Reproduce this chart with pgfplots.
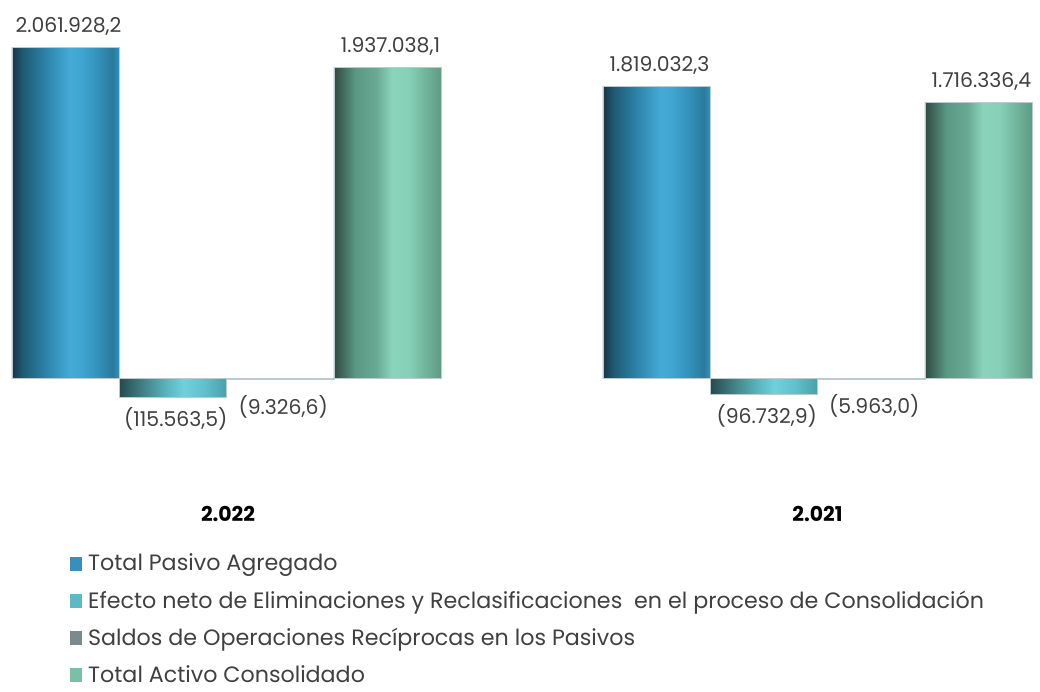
\documentclass[border=0pt]{standalone}
\usepackage{fontspec}
\setmainfont{Poppins}
\usepackage{pgfplots}
\pgfplotsset{compat=1.18}

% bar gradients, left to right
\definecolor{pa0}{HTML}{163545}
\definecolor{pa1}{HTML}{1F5A73}
\definecolor{pa2}{HTML}{2B80A6}
\definecolor{pa3}{HTML}{45ABD6}
\definecolor{pa4}{HTML}{40A6D1}
\definecolor{pa5}{HTML}{3391BB}
\definecolor{pa6}{HTML}{2A7A9D}
\definecolor{ef0}{HTML}{254A4E}
\definecolor{ef1}{HTML}{44868C}
\definecolor{ef2}{HTML}{5AB4BC}
\definecolor{ef3}{HTML}{70D0DC}
\definecolor{ef4}{HTML}{5FBFCA}
\definecolor{ef5}{HTML}{4AA0AA}
\definecolor{ac0}{HTML}{2E4A40}
\definecolor{ac1}{HTML}{5A9884}
\definecolor{ac2}{HTML}{6AAA94}
\definecolor{ac3}{HTML}{8AD4BC}
\definecolor{ac4}{HTML}{86D0B8}
\definecolor{ac5}{HTML}{72B69E}
\definecolor{ac6}{HTML}{5F9A84}
\definecolor{saldo}{HTML}{7D8F92}
\definecolor{edge}{HTML}{BCCBD0}
\definecolor{lbl}{HTML}{404040}
% legend swatches
\definecolor{lgpa}{HTML}{3A8FBA}
\definecolor{lgef}{HTML}{5BBAC4}
\definecolor{lgsa}{HTML}{7A8A8D}
\definecolor{lgac}{HTML}{77C2A6}

\pgfdeclarehorizontalshading{pasivo}{100bp}{color(0bp)=(pa0); color(25bp)=(pa0); color(30bp)=(pa1); color(40bp)=(pa2); color(52bp)=(pa3); color(57bp)=(pa4); color(65bp)=(pa5); color(72bp)=(pa6); color(75bp)=(pa5); color(100bp)=(pa5)}
\pgfdeclarehorizontalshading{efecto}{100bp}{color(0bp)=(ef0); color(25bp)=(ef0); color(37bp)=(ef1); color(47bp)=(ef2); color(55bp)=(ef3); color(65bp)=(ef4); color(75bp)=(ef5); color(100bp)=(ef5)}
\pgfdeclarehorizontalshading{activo}{100bp}{color(0bp)=(ac0); color(25bp)=(ac0); color(35bp)=(ac1); color(45bp)=(ac2); color(52bp)=(ac3); color(60bp)=(ac4); color(67bp)=(ac5); color(75bp)=(ac6); color(100bp)=(ac6)}

\newcommand{\lblfont}{\fontsize{10.2}{12}\selectfont}

% one bar per \addplot so each bar gets its own gradient
\pgfplotsset{
    pasivo/.style={shading=pasivo, draw=edge, line width=0.3pt, forget plot,
        every node near coord/.append style={yshift=10.5pt}},
    efecto/.style={shading=efecto, draw=edge, line width=0.3pt, forget plot,
        every node near coord/.append style={yshift=-11.25pt}},
    saldo/.style={fill=saldo, draw=edge, line width=0.3pt, forget plot,
        every node near coord/.append style={yshift=-13.5pt}},
    activo/.style={shading=activo, draw=edge, line width=0.3pt, forget plot,
        every node near coord/.append style={yshift=10.5pt}},
}

\begin{document}
\begin{tikzpicture}
\begin{axis}[
    width=520pt, height=343pt, scale only axis,
    xmin=0, xmax=1040,
    ymin=-1916770, ymax=2356570,
    hide axis, clip=false,
    ybar, bar shift=0pt, bar width=107.3,
    nodes near coords, point meta=explicit symbolic,
    every node near coord/.append style={font=\lblfont, text=lbl, anchor=center, xshift=1.5pt},
    legend style={at={(rel axis cs:0.0673,0.1935)}, anchor=north west,
        draw=none, fill=none, font=\fontsize{11.1}{13}\selectfont, text=lbl,
        row sep=8.5pt, column sep=3pt, inner sep=0pt, nodes={inner sep=0pt},
        cells={anchor=west}},
]
% 2.022
\addplot[pasivo] coordinates {(65.5,2061928.2) [2.061.928,2]};
\addplot[efecto] coordinates {(172.8,-115563.5) [(115.563,5)]};
\addplot[saldo]  coordinates {(280.2,-9326.6) [(9.326,6)]};
\addplot[activo] coordinates {(387.5,1937038.1) [1.937.038,1]};
% 2.021
\addplot[pasivo] coordinates {(656.5,1819032.3) [1.819.032,3]};
\addplot[efecto] coordinates {(763.8,-96732.9) [(96.732,9)]};
\addplot[saldo]  coordinates {(871.2,-5963.0) [(5.963,0)]};
\addplot[activo] coordinates {(978.5,1716336.4) [1.716.336,4]};

\addlegendimage{legend image code/.code={\fill[lgpa] (0pt,-3.25pt) rectangle (5.5pt,3.25pt);}}
\addlegendentry{Total Pasivo Agregado}
\addlegendimage{legend image code/.code={\fill[lgef] (0pt,-3.25pt) rectangle (5.5pt,3.25pt);}}
\addlegendentry{Efecto neto de Eliminaciones y Reclasificaciones\ \ en el proceso de Consolidación}
\addlegendimage{legend image code/.code={\fill[lgsa] (0pt,-3.25pt) rectangle (5.5pt,3.25pt);}}
\addlegendentry{Saldos de Operaciones Recíprocas en los Pasivos}
\addlegendimage{legend image code/.code={\fill[lgac] (0pt,-3.25pt) rectangle (5.5pt,3.25pt);}}
\addlegendentry{Total Activo Consolidado}

\node[font=\bfseries\lblfont] at (axis cs:228,-845300) {2.022};
\node[font=\bfseries\lblfont] at (axis cs:817.5,-845300) {2.021};
\path (rel axis cs:0,-0.008) rectangle (rel axis cs:1,1);
\end{axis}
\end{tikzpicture}
\end{document}
